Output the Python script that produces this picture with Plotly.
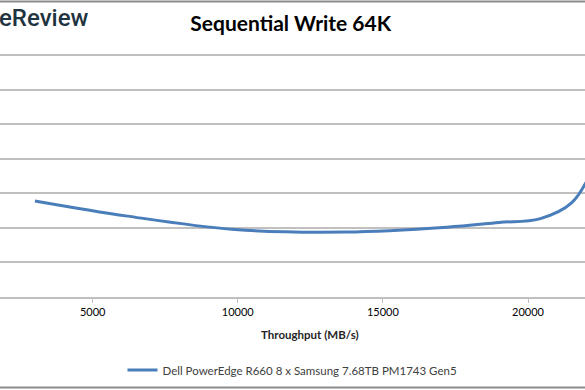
import plotly.graph_objects as go

# Data
series_name = "Dell PowerEdge R660 8 x Samsung 7.68TB PM1743 Gen5"
throughput_mbs = [3010, 6200, 9900, 13700, 17200, 19000, 20400, 21500, 22300]
latency_ms = [1.39, 1.17, 0.976, 0.94, 1.01, 1.078, 1.13, 1.36, 1.91]
x_tick_vals = [5000, 10000, 15000, 20000]
x_tick_text = ["5000", "10000", "15000", "20000"]

FONT = "Lato"
W, H = 585, 390
plot_top, plot_bottom = 45, 297
px_per_unit = 69.14  # pixels per 1.0 latency unit
ph = plot_bottom - plot_top
y_max = ph / px_per_unit

fig = go.Figure()
fig.add_trace(go.Scatter(
    x=throughput_mbs, y=latency_ms, mode="lines", name=series_name,
    line=dict(color="#4a7ebb", width=3, shape="spline", smoothing=1.0),
))

def py(pixel):
    return (plot_bottom - pixel) / ph

fig.update_layout(
    width=W, height=H,
    paper_bgcolor="white", plot_bgcolor="white",
    margin=dict(l=0, r=0, t=plot_top, b=H - plot_bottom, pad=0),
    font=dict(family=FONT, color="#404040", size=11),
    title=dict(text="<b>Sequential Write 64K</b>", x=0.497, xanchor="center",
               y=1 - 24 / H, yanchor="middle", yref="container",
               font=dict(family=FONT, size=21, color="#000000")),
    showlegend=True,
    legend=dict(orientation="h", x=0.5, xanchor="center",
                y=py(370), yanchor="middle",
                font=dict(family=FONT, size=11.5, color="#404040"),
                bgcolor="rgba(0,0,0,0)"),
    xaxis=dict(range=[1806, 21964], tickvals=x_tick_vals, ticktext=x_tick_text,
               showgrid=False, zeroline=False, showline=True, linecolor="#bfbfbf",
               linewidth=1.5, ticks="outside", ticklen=4, tickcolor="#bfbfbf",
               tickfont=dict(family=FONT, size=11, color="#000000"), automargin=False),
    yaxis=dict(range=[0, y_max], dtick=0.5, showgrid=True, gridcolor="#c0c0c0",
               gridwidth=1.5, zeroline=False, showline=False, showticklabels=False,
               automargin=False),
    annotations=[
        dict(text="<b>Throughput (MB/s)</b>", xref="paper", yref="paper",
             x=310 / W, y=py(334),
             xanchor="center", yanchor="middle", showarrow=False,
             font=dict(family=FONT, size=11.5, color="#262626")),
        dict(text="eReview", xref="paper", yref="paper",
             x=-3 / W, y=py(18),
             xanchor="left", yanchor="middle", showarrow=False,
             font=dict(family="Roboto", size=24, color="#1f3440", weight=500)),
    ],
    shapes=[
        dict(type="line", xref="paper", yref="paper", x0=0, x1=1,
             y0=py(1.5), y1=py(1.5),
             line=dict(color="#8c8c8c", width=2)),
        dict(type="line", xref="paper", yref="paper", x0=0, x1=1,
             y0=py(387.5), y1=py(387.5),
             line=dict(color="#8c8c8c", width=2)),
    ],
)

fig.write_html(
    "out.html",
    config={"displayModeBar": False},
    post_script="document.body.style.margin='0';document.body.style.overflow='hidden';",
)
